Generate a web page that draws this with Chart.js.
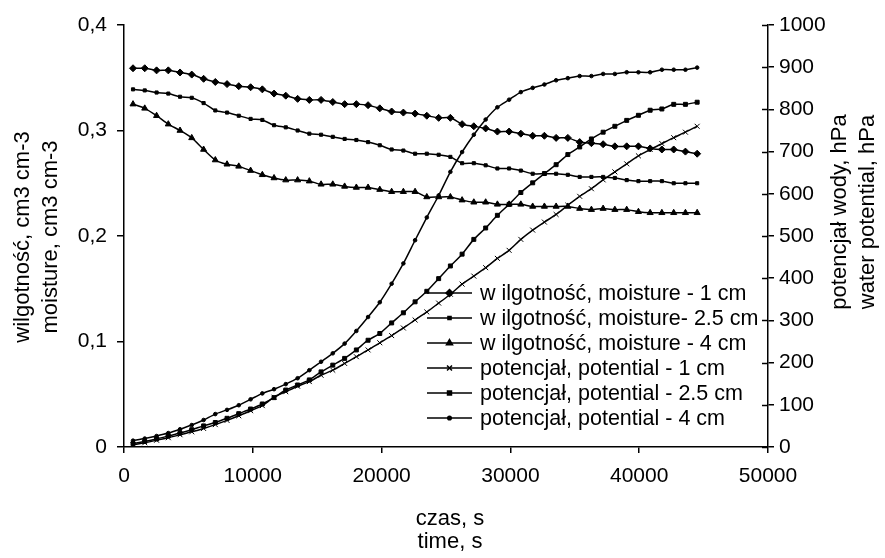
<!DOCTYPE html>
<html>
<head>
<meta charset="utf-8">
<script src="https://cdn.jsdelivr.net/npm/chart.js@4"></script>
<style>
  html, body { margin: 0; padding: 0; background: #fff; }
  #wrap { width: 885px; height: 558px; }
</style>
</head>
<body>
<div id="wrap"><canvas id="chart" width="885" height="558"></canvas></div>
<script>
// time, s
var times = [700, 1610, 2530, 3440, 4350, 5260, 6180, 7090, 8000, 8910, 9830, 10740, 11650, 12560, 13480, 14390, 15300, 16210, 17130, 18040, 18950, 19860, 20780, 21690, 22600, 23510, 24430, 25340, 26250, 27160, 28080, 28990, 29900, 30810, 31730, 32640, 33550, 34460, 35380, 36290, 37200, 38110, 39030, 39940, 40850, 41760, 42680, 43590, 44500];

// moisture, cm3 cm-3
var moisture1 = [0.359, 0.359, 0.357, 0.357, 0.355, 0.353, 0.349, 0.346, 0.344, 0.342, 0.341, 0.339, 0.335, 0.333, 0.330, 0.329, 0.329, 0.327, 0.325, 0.325, 0.324, 0.321, 0.318, 0.317, 0.316, 0.314, 0.312, 0.312, 0.306, 0.304, 0.302, 0.299, 0.299, 0.297, 0.295, 0.295, 0.293, 0.293, 0.289, 0.288, 0.287, 0.285, 0.285, 0.285, 0.283, 0.282, 0.282, 0.280, 0.278];
var moisture25 = [0.339, 0.338, 0.336, 0.335, 0.332, 0.331, 0.326, 0.319, 0.317, 0.314, 0.311, 0.310, 0.305, 0.303, 0.300, 0.297, 0.296, 0.294, 0.292, 0.291, 0.289, 0.286, 0.282, 0.281, 0.278, 0.278, 0.277, 0.275, 0.269, 0.269, 0.267, 0.264, 0.264, 0.262, 0.259, 0.259, 0.259, 0.258, 0.256, 0.256, 0.256, 0.255, 0.253, 0.252, 0.252, 0.252, 0.250, 0.250, 0.250];
var moisture4 = [0.325, 0.321, 0.314, 0.306, 0.300, 0.293, 0.282, 0.272, 0.268, 0.266, 0.262, 0.258, 0.255, 0.253, 0.253, 0.252, 0.249, 0.249, 0.247, 0.246, 0.246, 0.244, 0.242, 0.242, 0.242, 0.237, 0.237, 0.237, 0.234, 0.232, 0.232, 0.230, 0.230, 0.230, 0.228, 0.228, 0.228, 0.228, 0.226, 0.225, 0.226, 0.225, 0.225, 0.223, 0.222, 0.222, 0.222, 0.222, 0.222];

// water potential, hPa
var potential1 = [5, 10, 16, 22, 29, 36, 44, 53, 63, 74, 86, 98, 118, 131, 144, 155, 170, 182, 198, 214, 230, 247, 264, 282, 301, 320, 341, 362, 386, 405, 425, 447, 466, 492, 514, 533, 551, 573, 594, 612, 633, 652, 671, 690, 705, 719, 733, 746, 760];
var potential25 = [8, 13, 19, 26, 33, 41, 50, 58, 68, 79, 90, 102, 117, 135, 147, 159, 178, 194, 210, 230, 253, 269, 294, 318, 344, 369, 399, 429, 457, 492, 519, 549, 575, 603, 626, 648, 669, 693, 711, 730, 746, 760, 774, 786, 798, 801, 812, 812, 817];
var potential4 = [15, 20, 26, 33, 42, 52, 64, 78, 88, 99, 113, 127, 137, 149, 163, 182, 202, 222, 245, 275, 308, 343, 387, 435, 490, 544, 596, 652, 699, 740, 776, 805, 823, 841, 851, 859, 869, 874, 879, 879, 884, 884, 888, 888, 888, 894, 894, 894, 899];

var seriesLabels = [
  'w ilgotność, moisture - 1 cm',
  'w ilgotność, moisture- 2.5 cm',
  'w ilgotność, moisture - 4 cm',
  'potencjał, potential - 1 cm',
  'potencjał, potential - 2.5 cm',
  'potencjał, potential - 4 cm'
];

var FONT = "'Liberation Sans', Arial, sans-serif";

function pts(vals) {
  var out = [];
  for (var i = 0; i < vals.length; i++) out.push({x: times[i], y: vals[i]});
  return out;
}

function ds(label, vals, axis, style, radius) {
  return {
    label: label,
    data: pts(vals),
    yAxisID: axis,
    borderColor: '#000',
    backgroundColor: '#000',
    borderWidth: 1.5,
    pointStyle: style,
    pointRadius: radius,
    pointBorderWidth: 1,
    pointBackgroundColor: '#000',
    pointBorderColor: '#000',
    tension: 0.25
  };
}

// legend drawn by hand at the spot where the original has it
var legendPlugin = {
  id: 'handLegend',
  afterDraw: function(chart) {
    var ctx = chart.ctx;
    ctx.save();
    ctx.font = '21.5px ' + FONT;
    ctx.fillStyle = '#000';
    ctx.textBaseline = 'middle';
    ctx.textAlign = 'left';
    var y0 = 293, step = 25;
    chart.data.datasets.forEach(function(d, i) {
      var y = y0 + i * step;
      ctx.strokeStyle = '#000';
      ctx.lineWidth = 1.5;
      ctx.beginPath();
      ctx.moveTo(427, y);
      ctx.lineTo(472, y);
      ctx.stroke();
      Chart.helpers.drawPoint(ctx, {pointStyle: d.pointStyle, radius: d.pointRadius, borderWidth: 1, rotation: 0}, 449.5, y);
      ctx.fillText(d.label, 480, y + 1);
    });
    ctx.restore();
  }
};

// axis titles and the inner half of right-axis ticks
var decorPlugin = {
  id: 'decor',
  afterDraw: function(chart) {
    var ctx = chart.ctx;
    var ca = chart.chartArea;
    var y2 = chart.scales.y2;
    ctx.save();
    ctx.strokeStyle = '#000';
    ctx.lineWidth = 1.5;
    y2.ticks.forEach(function(t) {
      var py = Math.round(y2.getPixelForValue(t.value)) + 0.5;
      ctx.beginPath();
      ctx.moveTo(ca.right - 6, py);
      ctx.lineTo(ca.right, py);
      ctx.stroke();
    });
    ctx.fillStyle = '#000';
    ctx.font = '22px ' + FONT;
    ctx.textAlign = 'center';
    ctx.textBaseline = 'middle';
    ctx.fillText('czas, s', 450, 519);
    ctx.fillText('time, s', 450, 542);

    var titles = [
      ['wilgotność, cm3 cm-3', 23, 237],
      ['moisture, cm3 cm-3', 51, 237],
      ['potencjał wody, hPa', 840, 212],
      ['water potential, hPa', 868, 212]
    ];
    titles.forEach(function(t) {
      ctx.save();
      ctx.translate(t[1], t[2]);
      ctx.rotate(-Math.PI / 2);
      ctx.fillText(t[0], 0, 0);
      ctx.restore();
    });
    ctx.restore();
  }
};

var tickFont = {family: FONT, size: 21};
function axisGrid(len) {
  return {
    display: true,
    drawOnChartArea: false,
    drawTicks: true,
    tickLength: len,
    color: '#000',
    lineWidth: 1.5
  };
}
var axisBorder = {display: true, color: '#000', width: 1.5};

new Chart(document.getElementById('chart'), {
  type: 'line',
  data: {
    datasets: [
      ds(seriesLabels[0], moisture1, 'y', 'rectRot', 3.5),
      ds(seriesLabels[1], moisture25, 'y', 'rect', 2.2),
      ds(seriesLabels[2], moisture4, 'y', 'triangle', 3.5),
      ds(seriesLabels[3], potential1, 'y2', 'crossRot', 3.5),
      ds(seriesLabels[4], potential25, 'y2', 'rect', 2.8),
      ds(seriesLabels[5], potential4, 'y2', 'circle', 1.8)
    ]
  },
  options: {
    responsive: false,
    animation: false,
    layout: {padding: {top: 25, left: 0, right: 0, bottom: 0}},
    plugins: {
      legend: {display: false},
      tooltip: {enabled: false}
    },
    scales: {
      x: {
        type: 'linear',
        min: 0,
        max: 50000,
        grid: axisGrid(6),
        border: axisBorder,
        ticks: {
          stepSize: 10000,
          color: '#000',
          font: tickFont,
          padding: 11,
          maxRotation: 0,
          callback: function(v) { return String(v); }
        },
        afterFit: function(s) { s.height = 111; }
      },
      y: {
        position: 'left',
        min: 0,
        max: 0.4,
        grid: axisGrid(7),
        border: axisBorder,
        ticks: {
          stepSize: 0.1,
          color: '#000',
          font: tickFont,
          padding: 10,
          callback: function(v) { return v === 0 ? '0' : v.toFixed(1).replace('.', ','); }
        },
        afterFit: function(s) { s.width = 124; }
      },
      y2: {
        position: 'right',
        min: 0,
        max: 1000,
        grid: axisGrid(6),
        border: axisBorder,
        ticks: {
          stepSize: 100,
          color: '#000',
          font: tickFont,
          padding: 5,
          callback: function(v) { return String(v); }
        },
        afterFit: function(s) { s.width = 117; }
      }
    }
  },
  plugins: [legendPlugin, decorPlugin]
});
</script>
</body>
</html>
